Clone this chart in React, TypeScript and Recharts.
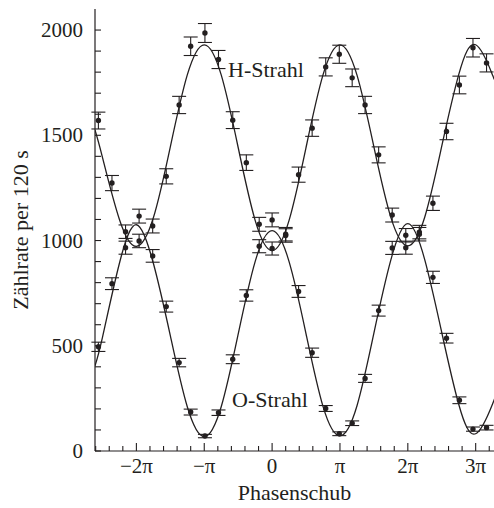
import {
  ComposedChart,
  Line,
  Scatter,
  ErrorBar,
  XAxis,
  YAxis,
  ReferenceDot,
} from "recharts";

// phase shift of each measurement, in units of pi
const phase = [
  -2.56, -2.36, -2.16, -1.96, -1.76, -1.56, -1.37, -1.2, -0.99, -0.79, -0.58, -0.38, -0.19, 0.0, 0.2,
  0.39, 0.59, 0.79, 0.99, 1.18, 1.37, 1.57, 1.77, 1.97, 2.17, 2.37, 2.57, 2.76, 2.96, 3.16,
];

const hCounts = [
  1570, 1273, 966, 998, 1069, 1305, 1644, 1923, 1986, 1860, 1572, 1370, 1077, 962, 1030,
  1313, 1534, 1825, 1885, 1773, 1644, 1407, 1121, 966, 1040, 1177, 1518, 1739, 1916, 1844,
];
const hErr = [
  40, 36, 31, 32, 33, 36, 41, 44, 45, 43, 40, 37, 33, 31, 32,
  36, 39, 43, 43, 42, 41, 38, 33, 31, 32, 34, 39, 42, 44, 43,
];

const oCounts = [
  495, 795, 1042, 1116, 927, 686, 420, 185, 71, 182, 436, 739, 973, 1098, 1024,
  758, 467, 202, 82, 132, 345, 667, 965, 1025, 1030, 825, 536, 241, 104, 111,
];
const oErr = [
  22, 28, 32, 33, 30, 26, 20, 14, 8, 13, 21, 27, 31, 33, 32,
  28, 22, 14, 9, 11, 19, 26, 31, 32, 32, 29, 23, 16, 10, 11,
];

const curvePhase = [
  -2.61, -2.5, -2.25, -2, -1.75, -1.5, -1.25, -1, -0.75, -0.5, -0.25, 0, 0.25, 0.5, 0.75,
  1, 1.25, 1.5, 1.75, 2, 2.25, 2.5, 2.75, 3, 3.25, 3.27,
];
const hFit = [
  1525, 1395, 1100, 972, 1108, 1445, 1787, 1930, 1787, 1442, 1096, 952, 1096, 1442, 1787,
  1930, 1787, 1445, 1110, 975, 1112, 1448, 1788, 1930, 1785, 1772,
];
const oFit = [
  405, 540, 892, 1075, 892, 548, 210, 68, 210, 555, 900, 1047, 900, 557, 212,
  72, 214, 560, 908, 1080, 908, 563, 222, 82, 225, 240,
];

const xDomain = [-2.61, 3.27];
const xTicks = Array.from({ length: 30 }, (_, i) => Math.round((-2.6 + i * 0.2) * 10) / 10);
const majorTicks = [-2, -1, 0, 1, 2, 3];
const majorLabels = ["−2π", "−π", "0", "π", "2π", "3π"];
const yTicks = Array.from({ length: 21 }, (_, i) => i * 100);
const yLabels = [0, 500, 1000, 1500, 2000];

const ink = "#231f20";
const font = "Liberation Serif, DejaVu Serif, serif";

const hPoints = phase.map((x, i) => ({ x, y: hCounts[i], err: hErr[i] }));
const oPoints = phase.map((x, i) => ({ x, y: oCounts[i], err: oErr[i] }));
const hCurve = curvePhase.map((x, i) => ({ x, y: hFit[i] }));
const oCurve = curvePhase.map((x, i) => ({ x, y: oFit[i] }));

const BottomTick = (props: any) => {
  const { x, y, payload } = props;
  const idx = majorTicks.indexOf(payload.value);
  return (
    <g>
      <line x1={x} x2={x} y1={y} y2={y - (idx >= 0 ? 8 : 5)} stroke={ink} strokeWidth={1.1} />
      {idx >= 0 && (
        <text x={x} y={y + 22} textAnchor="middle" fontSize={21} style={{ fontFamily: font }} fill={ink}>
          {majorLabels[idx]}
        </text>
      )}
    </g>
  );
};

const TopTick = (props: any) => {
  const { x, y, payload } = props;
  const major = majorTicks.indexOf(payload.value) >= 0;
  return <line x1={x} x2={x} y1={y} y2={y + (major ? 8 : 4.5)} stroke={ink} strokeWidth={1.1} />;
};

const LeftTick = (props: any) => {
  const { x, y, payload } = props;
  return (
    <g>
      <line x1={x} x2={x + 6} y1={y} y2={y} stroke={ink} strokeWidth={1.1} />
      {yLabels.includes(payload.value) && (
        <text x={x - 12} y={y + 7} textAnchor="end" fontSize={21} style={{ fontFamily: font }} fill={ink}>
          {payload.value}
        </text>
      )}
    </g>
  );
};

const Dot = (props: any) => <circle cx={props.cx} cy={props.cy} r={2.7} fill={ink} />;

const beamLabel = (text: string) => (props: any) =>
  (
    <text x={props.cx} y={props.cy} fontSize={22} style={{ fontFamily: font }} fill={ink}>
      {text}
    </text>
  );

export default function App() {
  return (
    <div
      style={{
        position: "absolute",
        left: 0,
        top: 0,
        width: 494,
        height: 508,
        background: "#fff",
        fontFamily: font,
      }}
    >
      <ComposedChart width={494} height={508} margin={{ top: 9, right: 0, bottom: 0, left: 0 }}>
        <XAxis
          xAxisId="b"
          dataKey="x"
          type="number"
          domain={xDomain}
          allowDataOverflow
          ticks={xTicks}
          interval={0}
          height={57}
          tickSize={0}
          tickMargin={0}
          tick={<BottomTick />}
          axisLine={{ stroke: ink, strokeWidth: 1.2 }}
          label={{
            value: "Phasenschub",
            position: "insideBottom",
            offset: 8,
            style: { fontSize: 22, fontFamily: font, fill: ink },
          }}
        />
        <XAxis
          xAxisId="t"
          orientation="top"
          type="number"
          domain={xDomain}
          allowDataOverflow
          ticks={xTicks}
          interval={0}
          height={0}
          tickSize={0}
          tickMargin={0}
          tick={<TopTick />}
          axisLine={{ stroke: ink, strokeWidth: 1.2 }}
        />
        <YAxis
          dataKey="y"
          type="number"
          domain={[0, 2100]}
          allowDataOverflow
          ticks={yTicks}
          interval={0}
          width={95}
          tickSize={0}
          tickMargin={0}
          tick={<LeftTick />}
          axisLine={{ stroke: ink, strokeWidth: 1.2 }}
          label={{
            value: "Zählrate per 120 s",
            angle: -90,
            position: "insideLeft",
            offset: 20,
            style: { textAnchor: "middle", fontSize: 22, fontFamily: font, fill: ink },
          }}
        />
        <Line
          xAxisId="b"
          data={hCurve}
          dataKey="y"
          type="natural"
          stroke={ink}
          strokeWidth={1.3}
          dot={false}
          activeDot={false}
          isAnimationActive={false}
        />
        <Line
          xAxisId="b"
          data={oCurve}
          dataKey="y"
          type="natural"
          stroke={ink}
          strokeWidth={1.3}
          dot={false}
          activeDot={false}
          isAnimationActive={false}
        />
        <Scatter xAxisId="b" data={hPoints} dataKey="y" shape={<Dot />} isAnimationActive={false}>
          <ErrorBar dataKey="err" direction="y" width={7} stroke={ink} strokeWidth={1.1} />
        </Scatter>
        <Scatter xAxisId="b" data={oPoints} dataKey="y" shape={<Dot />} isAnimationActive={false}>
          <ErrorBar dataKey="err" direction="y" width={7} stroke={ink} strokeWidth={1.1} />
        </Scatter>
        <ReferenceDot xAxisId="b" x={-0.65} y={1778} r={0} shape={beamLabel("H-Strahl")} />
        <ReferenceDot xAxisId="b" x={-0.59} y={208} r={0} shape={beamLabel("O-Strahl")} />
      </ComposedChart>
    </div>
  );
}
